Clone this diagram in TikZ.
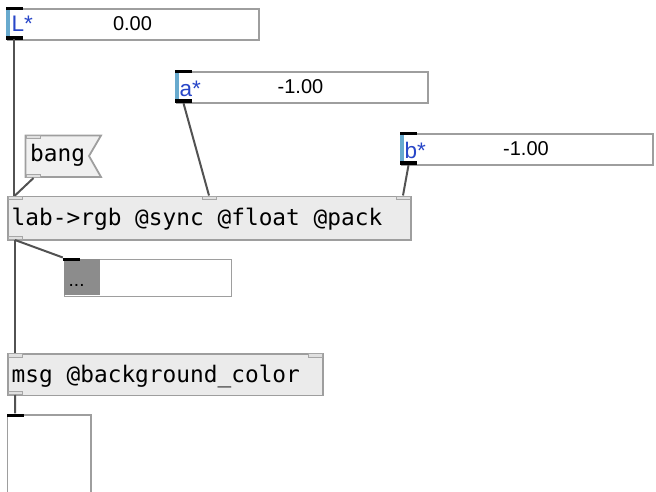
\documentclass[tikz,border=0pt]{standalone}
\usepackage{fontspec}
\setmainfont{Liberation Sans}
\newfontfamily\monofont{DejaVu Sans Mono}
\definecolor{barblue}{RGB}{104,170,206}
\definecolor{lblblue}{RGB}{40,70,200}
\begin{document}
\begin{tikzpicture}[x=1pt,y=-1pt,
  boxline/.style={draw=black!38, line width=1.8pt},
  numbox/.style={boxline, fill=white, anchor=north west, inner sep=0pt, minimum height=31pt},
  objbox/.style={boxline, fill=black!8, anchor=north west, inner sep=0pt},
  blackport/.style={fill=black, draw=none, anchor=north west, inner sep=0pt, minimum width=17pt, minimum height=3.6pt},
  grayport/.style={fill=black!12, draw=black!35, line width=1pt, anchor=north west, inner sep=0pt, minimum width=14pt, minimum height=3.5pt},
  wire/.style={draw=black!68, line width=2pt},
  numtxt/.style={font=\fontsize{20}{24}\selectfont, anchor=base},
  lbltxt/.style={font=\fontsize{22.5}{26}\selectfont, text=lblblue, anchor=base west, inner sep=0pt},
  objtxt/.style={font=\monofont\fontsize{22.8}{26}\selectfont, anchor=base west, inner sep=0pt},
  bluebar/.style={fill=barblue, draw=none}
]
\useasboundingbox (0,0) rectangle (656,492);

% number boxes L*, a*, b*
\node[numbox, minimum width=251.5pt] (L) at (6.8,7.8) {};
\fill[bluebar] (5.8,8) rectangle (10,39);
\node[blackport] (Lin) at (5.8,6.6) {};
\node[blackport] (Lout) at (5.8,36.2) {};
\node[lbltxt] (Llbl) at (11.5,32) {L*};
\node[numtxt] (Lval) at (132.5,30.5) {0.00};

\node[numbox, minimum width=251.5pt] (A) at (175.8,70.8) {};
\fill[bluebar] (174.8,71) rectangle (179,102);
\node[blackport] (Ain) at (174.8,69.6) {};
\node[blackport] (Aout) at (174.8,99.2) {};
\node[lbltxt] (Albl) at (179.5,97) {a*};
\node[numtxt] (Aval) at (300.5,93.5) {-1.00};

\node[numbox, minimum width=251.5pt] (B) at (400.8,132.8) {};
\fill[bluebar] (399.8,133) rectangle (404,164);
\node[blackport] (Bin) at (399.8,131.6) {};
\node[blackport] (Bout) at (399.8,161.2) {};
\node[lbltxt] (Blbl) at (404.5,159) {b*};
\node[numtxt] (Bval) at (526,155.5) {-1.00};

% bang message box (flag outline)
\filldraw[boxline, fill=black!6] (25.5,135.5) -- (101,135.5) -- (89,156) -- (101,177) -- (25.5,177) -- cycle;
\node[grayport] (bangin) at (26,135) {};
\node[grayport] (bangout) at (26,173.5) {};
\node[objtxt] (bangtxt) at (30,161) {bang};

% lab->rgb object
\node[objbox, minimum width=403pt, minimum height=43.5pt] (lab) at (7,195.5) {};
\node[grayport] (labin1) at (7.5,195.5) {};
\node[grayport] (labin2) at (201.5,195.5) {};
\node[grayport] (labin3) at (395.5,195.5) {};
\node[grayport] (labout) at (7.5,235.5) {};
\node[objtxt] (labtxt) at (11.5,225) {lab->rgb @sync @float @pack};

% display box
\node[numbox, minimum width=167pt, minimum height=37pt] (disp) at (63.5,258.5) {};
\fill[black!45] (63.5,258.5) rectangle (100,295);
\node[blackport] (dispin) at (62.8,257.5) {};
\node[font=\fontsize{19}{22}\selectfont, anchor=base west, inner sep=0pt] (disptxt) at (68.5,286) {...};

% msg @background_color
\node[objbox, minimum width=315pt, minimum height=41.5pt] (msg) at (7,353) {};
\node[grayport] (msgin1) at (7.5,353) {};
\node[grayport] (msgin2) at (307.5,353) {};
\node[grayport] (msgout) at (7.5,390.5) {};
\node[objtxt] (msgtxt) at (11.5,382) {msg @background\_color};

% receiving box, running past the lower edge
\draw[boxline] (7.5,500) -- (7.5,414.8) -- (91,414.8) -- (91,500);
\node[blackport] (colin) at (6.5,413.3) {};

% connections
\draw[wire] (13.5,39.5) -- (13.5,195.5);
\draw[wire] (bangout.south) -- (labin1.north);
\draw[wire] (Aout.south) -- (labin2.north);
\draw[wire] (Bout.south) -- (labin3.north);
\draw[wire] (labout.south) -- (msgin1.north);
\draw[wire] (labout.south) -- (dispin.north west);
\draw[wire] (msgout.south) -- (colin.north);
\end{tikzpicture}
\end{document}
